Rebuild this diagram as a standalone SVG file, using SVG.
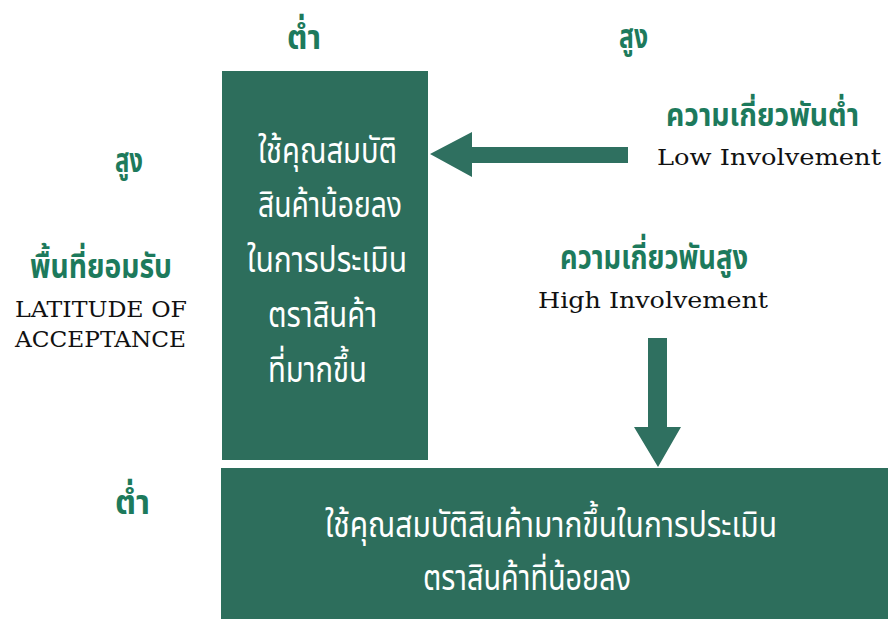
<svg xmlns="http://www.w3.org/2000/svg" width="888" height="619" viewBox="0 0 888 619">
<style>
.box{fill:#2d6e5c}
.arrow{fill:#2f7060}
.lbl{fill:#1d7a5c;font-family:"Noto Sans Thai","Noto Sans","DejaVu Sans",sans-serif;font-weight:bold;font-size:34px}
.en{fill:#111;font-family:"DejaVu Serif","Liberation Serif",serif;font-size:22px}
.in{fill:#fff;font-family:"Noto Sans Thai","Noto Sans","DejaVu Sans",sans-serif;font-size:36px}
</style>
<rect width="888" height="619" fill="#fff"/>
<g id="box-low">
<rect class="box" x="222" y="71" width="206" height="389"/>
<text class="in" x="258" y="163" textLength="139" lengthAdjust="spacingAndGlyphs">ใช้คุณสมบัติ</text>
<text class="in" x="258" y="217" textLength="144" lengthAdjust="spacingAndGlyphs">สินค้าน้อยลง</text>
<text class="in" x="247" y="272" textLength="160" lengthAdjust="spacingAndGlyphs">ในการประเมิน</text>
<text class="in" x="268" y="327" textLength="109" lengthAdjust="spacingAndGlyphs">ตราสินค้า</text>
<text class="in" x="268" y="382" textLength="99" lengthAdjust="spacingAndGlyphs">ที่มากขึ้น</text>
</g>
<g id="box-high">
<rect class="box" x="221" y="468" width="667" height="151"/>
<text class="in" x="325" y="537" textLength="452" lengthAdjust="spacingAndGlyphs">ใช้คุณสมบัติสินค้ามากขึ้นในการประเมิน</text>
<text class="in" x="423" y="590" textLength="208" lengthAdjust="spacingAndGlyphs">ตราสินค้าที่น้อยลง</text>
</g>
<g id="axis-labels">
<text class="lbl" x="287" y="49" textLength="34" lengthAdjust="spacingAndGlyphs">ต่ำ</text>
<text class="lbl" x="619" y="48" textLength="29" lengthAdjust="spacingAndGlyphs">สูง</text>
<text class="lbl" x="115" y="172" textLength="28" lengthAdjust="spacingAndGlyphs">สูง</text>
<text class="lbl" x="30" y="278" textLength="142" lengthAdjust="spacingAndGlyphs">พื้นที่ยอมรับ</text>
<text class="en" x="15" y="317" textLength="172" lengthAdjust="spacingAndGlyphs">LATITUDE OF</text>
<text class="en" x="15" y="347" textLength="171" lengthAdjust="spacingAndGlyphs">ACCEPTANCE</text>
<text class="lbl" x="115" y="514" textLength="35" lengthAdjust="spacingAndGlyphs">ต่ำ</text>
</g>
<g id="low-involvement">
<text class="lbl" x="666" y="126" font-size="31" style="font-size:31px" textLength="193" lengthAdjust="spacingAndGlyphs">ความเกี่ยวพันต่ำ</text>
<text class="en" x="657" y="165" textLength="224" lengthAdjust="spacingAndGlyphs">Low Involvement</text>
</g>
<g id="high-involvement">
<text class="lbl" x="560" y="269" textLength="188" lengthAdjust="spacingAndGlyphs">ความเกี่ยวพันสูง</text>
<text class="en" x="538" y="308" textLength="230" lengthAdjust="spacingAndGlyphs">High Involvement</text>
</g>
<g id="connectors">
<polygon class="arrow" points="430,154 472,132 472,147 628,147 628,163 472,163 472,177"/>
<polygon class="arrow" points="648,338 667,338 667,427 681,427 658,467 634,427 648,427"/>
</g>
</svg>
